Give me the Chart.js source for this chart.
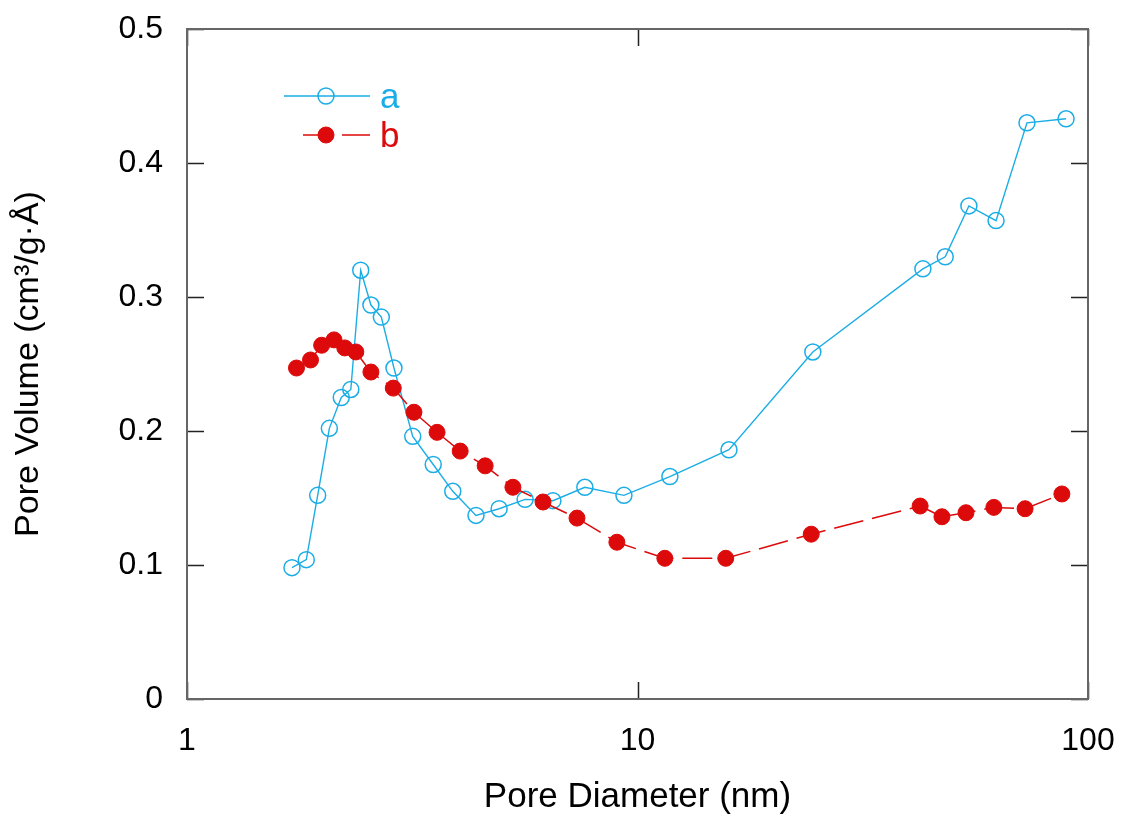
<!doctype html>
<html>
<head>
<meta charset="utf-8">
<title>Pore size distribution</title>
<script src="https://cdn.jsdelivr.net/npm/chart.js@4.4.0/dist/chart.umd.min.js"></script>
<style>
  body { margin: 0; background: #fff; }
  #wrap { width: 1123px; height: 816px; }
</style>
</head>
<body>
<div id="wrap"><canvas id="myChart"></canvas></div>
<script>
// series a (open circles)
var poreA = [1.71, 1.84, 1.95, 2.07, 2.20, 2.31, 2.43, 2.56, 2.70, 2.88, 3.17, 3.52, 3.89, 4.38,
             4.93, 5.63, 6.49, 7.64, 9.33, 11.8, 15.96, 24.5, 43.0, 48.2, 54.4, 62.5, 73.2, 89.4];
var volA  = [0.098, 0.104, 0.152, 0.202, 0.225, 0.231, 0.320, 0.294, 0.285, 0.247, 0.196, 0.175, 0.155, 0.137,
             0.142, 0.149, 0.148, 0.158, 0.152, 0.166, 0.186, 0.259, 0.321, 0.330, 0.368, 0.357, 0.430, 0.433];
// series b (filled circles)
var poreB = [1.75, 1.88, 1.99, 2.12, 2.24, 2.37, 2.56, 2.87, 3.19, 3.59, 4.04, 4.59, 5.29, 6.17,
             7.34, 9.00, 11.5, 15.7, 24.3, 42.4, 47.4, 53.6, 61.8, 72.5, 87.5];
var volB  = [0.247, 0.253, 0.264, 0.268, 0.262, 0.259, 0.244, 0.232, 0.214, 0.199, 0.185, 0.174, 0.158, 0.147,
             0.135, 0.117, 0.105, 0.105, 0.123, 0.144, 0.136, 0.139, 0.143, 0.142, 0.153];
var xTicks = [1, 10, 100];
var yTicks = [0, 0.1, 0.2, 0.3, 0.4, 0.5];

var blue = '#1bade6';
var red = '#dc0a0a';
var font = "'Liberation Sans', Arial, sans-serif";

function pts(xs, ys) {
  return xs.map(function (v, i) { return { x: v, y: ys[i] }; });
}

// frame, inward ticks and legend
var framePlugin = {
  id: 'frame',
  afterDatasetsDraw: function (chart) {
    var ctx = chart.ctx, a = chart.chartArea, sx = chart.scales.x, sy = chart.scales.y;
    ctx.save();
    ctx.strokeStyle = '#222';
    ctx.lineWidth = 1.5;
    ctx.beginPath();
    yTicks.forEach(function (v) {
      var p = Math.round(sy.getPixelForValue(v)) + 0.5;
      ctx.moveTo(a.left, p); ctx.lineTo(a.left + 17, p);
      ctx.moveTo(a.right, p); ctx.lineTo(a.right - 17, p);
    });
    xTicks.forEach(function (v) {
      var p = Math.round(sx.getPixelForValue(v)) + 0.5;
      ctx.moveTo(p, a.bottom); ctx.lineTo(p, a.bottom - 17);
      ctx.moveTo(p, a.top); ctx.lineTo(p, a.top + 17);
    });
    ctx.stroke();
    ctx.strokeStyle = '#666';
    ctx.lineWidth = 2;
    ctx.strokeRect(a.left, a.top, a.right - a.left, a.bottom - a.top);

    // legend
    chart.data.datasets.forEach(function (ds, i) {
      var ly = a.top + 67 + i * 39;
      var x0 = i === 0 ? a.left + 97 : a.left + 116;
      var x1 = a.left + 183, mx = a.left + 139;
      ctx.strokeStyle = ds.borderColor;
      ctx.lineWidth = ds.borderWidth;
      ctx.setLineDash(ds.borderDash || []);
      ctx.beginPath(); ctx.moveTo(x0, ly); ctx.lineTo(x1, ly); ctx.stroke();
      ctx.setLineDash([]);
      ctx.beginPath();
      ctx.arc(mx, ly, ds.pointRadius, 0, Math.PI * 2);
      ctx.fillStyle = ds.pointBackgroundColor;
      ctx.fill();
      ctx.lineWidth = ds.pointBorderWidth;
      ctx.strokeStyle = ds.pointBorderColor;
      ctx.stroke();
      ctx.fillStyle = ds.borderColor;
      ctx.font = '35px ' + font;
      ctx.textBaseline = 'middle';
      ctx.fillText(ds.label, a.left + 193, ly + 2);
    });
    ctx.restore();
  }
};

var ctx = document.getElementById('myChart').getContext('2d');
var chart = new Chart(ctx, {
  type: 'line',
  data: {
    datasets: [{
      label: 'a',
      data: pts(poreA, volA),
      borderColor: blue,
      borderWidth: 1.4,
      pointRadius: 8,
      pointHoverRadius: 8,
      pointBackgroundColor: 'rgba(255,255,255,0)',
      pointBorderColor: blue,
      pointBorderWidth: 1.5,
      order: 2
    }, {
      label: 'b',
      data: pts(poreB, volB),
      borderColor: red,
      borderWidth: 1.5,
      borderDash: [30, 9],
      pointRadius: 8,
      pointHoverRadius: 8,
      pointBackgroundColor: red,
      pointBorderColor: red,
      pointBorderWidth: 1,
      order: 1
    }]
  },
  options: {
    responsive: true,
    maintainAspectRatio: false,
    animation: false,
    layout: { padding: { top: 29, right: 35, left: 0, bottom: 0 } },
    plugins: { legend: { display: false }, tooltip: { enabled: false } },
    scales: {
      x: {
        type: 'logarithmic',
        min: 1, max: 100,
        afterBuildTicks: function (s) { s.ticks = xTicks.map(function (v) { return { value: v }; }); },
        afterFit: function (s) { s.height = 117; s.paddingLeft = 0; s.paddingRight = 0; },
        grid: { display: false, drawTicks: false },
        border: { display: false },
        ticks: {
          color: '#000', padding: 23, maxRotation: 0,
          font: { family: font, size: 32 },
          callback: function (v) { return String(v); }
        },
        title: {
          display: true, text: 'Pore Diameter (nm)', color: '#000',
          font: { family: font, size: 35 }, padding: { top: 0, bottom: -2 }
        }
      },
      y: {
        min: 0, max: 0.5,
        afterBuildTicks: function (s) { s.ticks = yTicks.map(function (v) { return { value: v }; }); },
        afterFit: function (s) { s.width = 187; s.paddingTop = 0; s.paddingBottom = 0; },
        grid: { display: false, drawTicks: false },
        border: { display: false },
        ticks: {
          color: '#000', padding: 24,
          font: { family: font, size: 32 },
          callback: function (v) { return v === 0 ? '0' : v.toFixed(1); }
        },
        title: {
          display: true, text: 'Pore Volume (cm³/g·Å)', color: '#000',
          font: { family: font, size: 34 }, padding: { top: 8, bottom: 0 }
        }
      }
    }
  },
  plugins: [framePlugin]
});
</script>
</body>
</html>
